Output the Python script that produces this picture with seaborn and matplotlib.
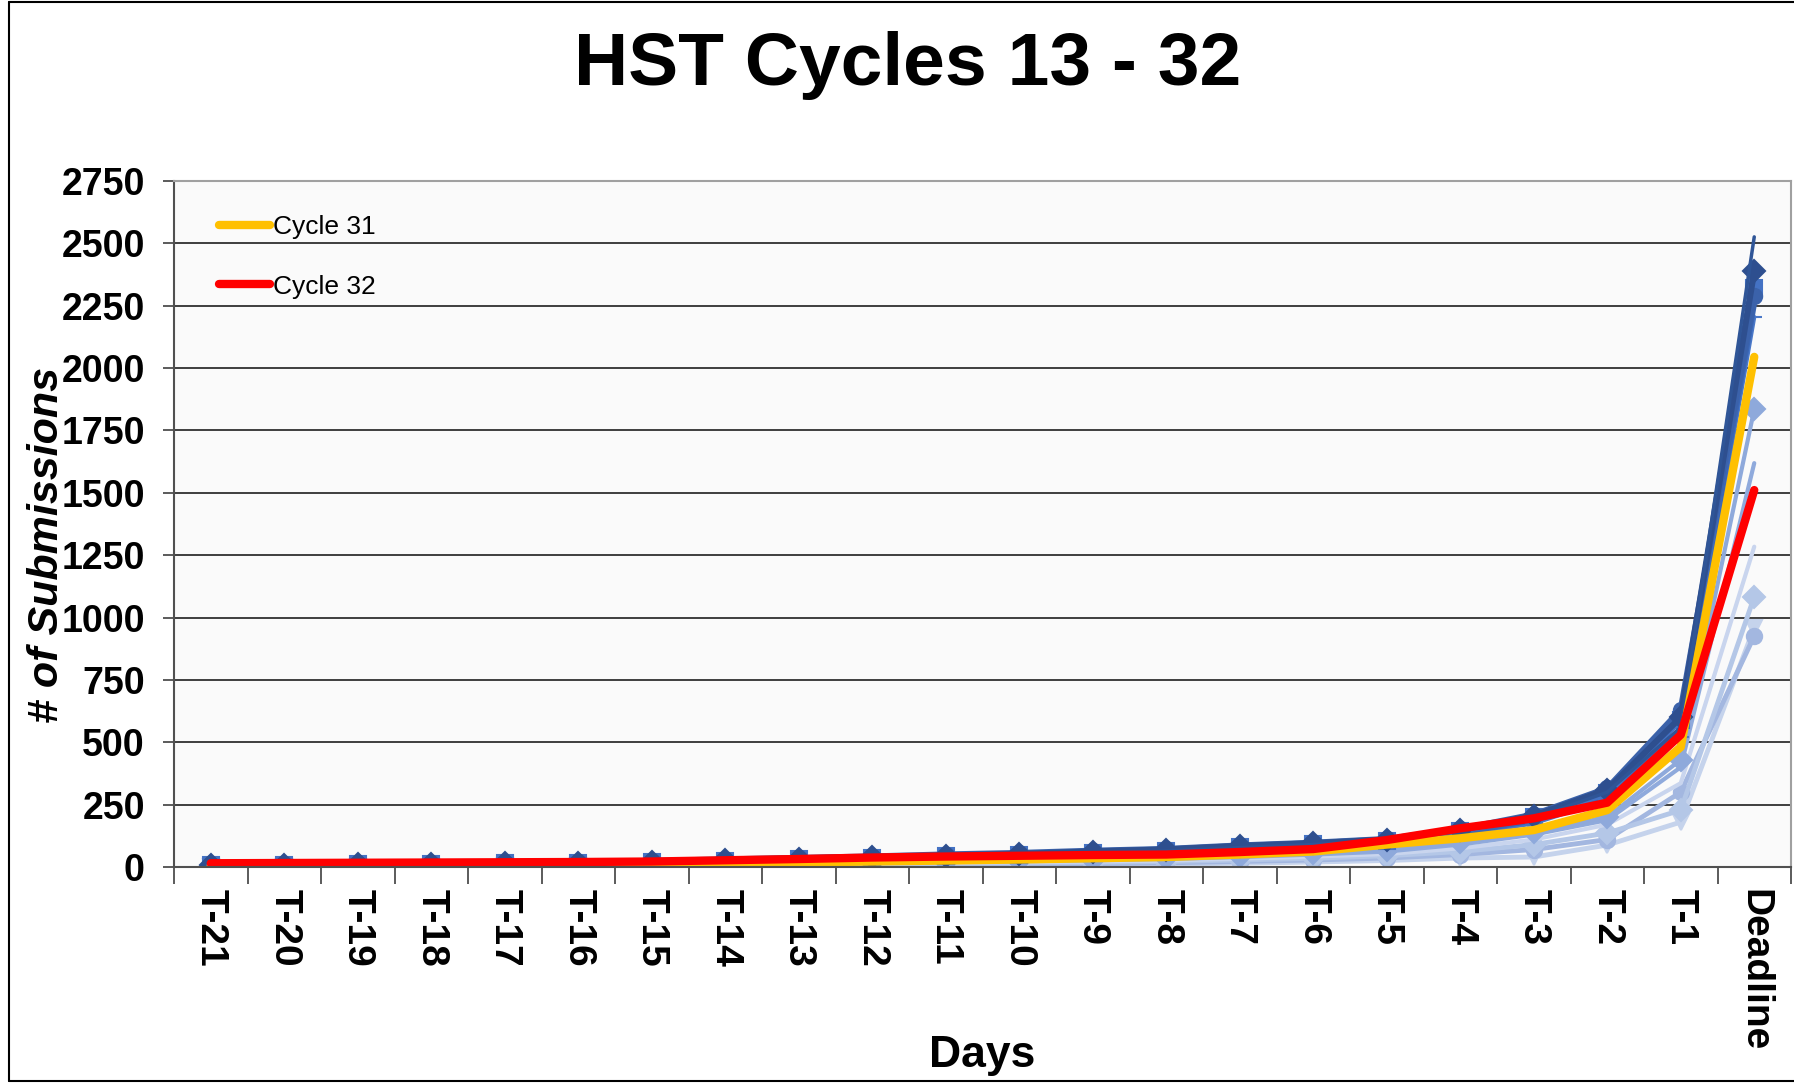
import matplotlib
matplotlib.use("Agg")
import matplotlib.pyplot as plt
import seaborn as sns
import numpy as np
import pandas as pd
from matplotlib.lines import Line2D

# ---------------- data ----------------
days = ["T-21", "T-20", "T-19", "T-18", "T-17", "T-16", "T-15", "T-14", "T-13",
        "T-12", "T-11", "T-10", "T-9", "T-8", "T-7", "T-6", "T-5", "T-4", "T-3",
        "T-2", "T-1", "Deadline"]

past_a = [6, 8, 10, 12, 14, 16, 20, 25, 30, 36, 42, 48, 56, 64, 78, 90, 105, 145, 195, 300, 560, 2526]
past_b = [8, 10, 12, 14, 16, 18, 22, 28, 34, 40, 46, 52, 62, 70, 84, 95, 110, 150, 205, 310, 600, 2390]
past_c = [7, 9, 11, 13, 15, 17, 21, 26, 32, 38, 44, 50, 58, 66, 80, 92, 106, 146, 200, 295, 590, 2320]
past_d = [10, 12, 13, 15, 17, 19, 24, 30, 36, 42, 50, 56, 65, 72, 86, 97, 112, 152, 210, 315, 630, 2290]
past_e = [5, 7, 9, 11, 13, 15, 18, 22, 27, 32, 37, 42, 50, 58, 70, 82, 98, 135, 185, 285, 550, 2250]
past_f = [4, 5, 6, 8, 10, 12, 15, 19, 24, 29, 34, 39, 46, 54, 66, 78, 92, 128, 175, 270, 520, 2205]
past_g = [3, 4, 5, 6, 7, 8, 10, 12, 15, 18, 21, 25, 30, 35, 45, 55, 70, 100, 140, 200, 430, 1835]
past_h = [3, 4, 5, 6, 7, 8, 9, 11, 14, 17, 20, 23, 27, 32, 40, 50, 62, 90, 130, 188, 400, 1619]
past_i = [2, 3, 4, 5, 6, 7, 8, 10, 12, 14, 16, 19, 22, 26, 33, 42, 52, 75, 110, 170, 336, 1284]
past_j = [1, 2, 3, 4, 5, 6, 7, 8, 10, 12, 14, 16, 18, 22, 28, 35, 45, 62, 90, 136, 228, 1083]
past_k = [1, 2, 2, 3, 4, 5, 6, 7, 8, 9, 10, 12, 14, 17, 22, 28, 36, 50, 70, 110, 300, 926]
past_l = [1, 1, 2, 2, 3, 3, 4, 5, 6, 7, 8, 9, 10, 12, 15, 20, 26, 36, 40, 88, 180, 960]

cycle31 = [5, 6, 7, 8, 9, 10, 12, 15, 18, 22, 26, 30, 35, 40, 50, 62, 90, 115, 148, 228, 481, 2045]
cycle32 = [15, 16, 17, 18, 19, 20, 22, 27, 32, 38, 42, 45, 48, 50, 60, 72, 108, 155, 195, 258, 530, 1511]

yticks = [0, 250, 500, 750, 1000, 1250, 1500, 1750, 2000, 2250, 2500, 2750]

# ---------------- style ----------------
sns.set_theme(style="white")
plt.rcParams["font.family"] = ["Liberation Sans", "DejaVu Sans"]
plt.rcParams["text.color"] = "black"
plt.rcParams["axes.labelcolor"] = "black"
plt.rcParams["xtick.color"] = "black"
plt.rcParams["ytick.color"] = "black"

fig = plt.figure(figsize=(17.94, 10.84), dpi=100)
ax = fig.add_axes([174 / 1794, 1 - 867 / 1084, (1791 - 174) / 1794, (867 - 181) / 1084])
ax.set_facecolor("#FAFAFA")

x = np.arange(len(days))

past_series = [
    (past_l, "#C5D3EC", "v", 3.5),
    (past_k, "#A3B7E0", "o", 3.5),
    (past_j, "#B4C7E7", "D", 3.5),
    (past_i, "#C9D5EE", None, 3.0),
    (past_h, "#8FAADC", None, 3.0),
    (past_g, "#8EA9DB", "D", 3.0),
    (past_f, "#4A78C8", "_", 3.0),
    (past_e, "#3A66B5", None, 3.5),
    (past_c, "#4472C4", "s", 4.5),
    (past_d, "#3B62AA", "o", 4.5),
    (past_b, "#2E4F8F", "D", 4.5),
    (past_a, "#2F5597", None, 2.5),
]

for vals, col, mk, lw in past_series:
    sns.lineplot(x=x, y=vals, ax=ax, color=col, linewidth=lw,
                 marker=mk if mk else "", markersize=11,
                 markeredgecolor=col, markeredgewidth=1.5, legend=False)

sns.lineplot(x=x, y=cycle31, ax=ax, color="#FFC000", linewidth=6,
             solid_capstyle="round", legend=False)
sns.lineplot(x=x, y=cycle32, ax=ax, color="#FF0000", linewidth=6,
             solid_capstyle="round", legend=False)

# axes
ax.set_xlim(-0.5, len(days) - 0.5)
ax.set_ylim(0, 2750)
ax.set_yticks(yticks)
ax.set_yticklabels([str(v) for v in yticks], fontsize=27, fontweight="bold")
ax.set_xticks(x)
ax.set_xticklabels(days, rotation=-90, fontsize=28, fontweight="bold")
ax.tick_params(axis="x", which="major", length=0, pad=16)
ax.set_xticks(np.arange(-0.5, len(days) + 0.5, 1), minor=True)
ax.tick_params(axis="x", which="minor", length=12, width=1.2, color="#404040", direction="out", bottom=True)
ax.tick_params(axis="y", length=8, width=1.2, color="#404040", direction="out", left=True, pad=13)

ax.yaxis.grid(True, color="#303030", linewidth=1.3)
ax.xaxis.grid(False)
ax.set_axisbelow(True)

for side in ["left", "bottom"]:
    ax.spines[side].set_color("#505050")
    ax.spines[side].set_linewidth(1.5)
for side in ["top", "right"]:
    ax.spines[side].set_color("#A0A0A0")
    ax.spines[side].set_linewidth(1.5)

ax.set_ylabel("# of Submissions", fontsize=31, fontweight="bold", fontstyle="italic", labelpad=0)
ax.yaxis.set_label_coords(-0.066, 0.47)
ax.set_xlabel("Days", fontsize=32, fontweight="bold")
ax.xaxis.set_label_coords(0.5, -0.245)

fig.text(908 / 1794, 1 - 66 / 1084, "HST Cycles 13 - 32", fontsize=54, fontweight="bold",
         ha="center", va="center")

handles = [Line2D([0], [0], color="#FFC000", linewidth=6, solid_capstyle="round"),
           Line2D([0], [0], color="#FF0000", linewidth=6, solid_capstyle="round")]
leg = ax.legend(handles, ["Cycle 31", "Cycle 32"], loc="upper left",
                bbox_to_anchor=(0.013, 0.985), frameon=False, fontsize=19,
                handlelength=1.95, handletextpad=0.1, labelspacing=1.35)

# figure frame
fig.add_artist(Line2D([9 / 1794, 9 / 1794], [1 - 1081 / 1084, 1 - 2 / 1084],
                      transform=fig.transFigure, color="black", linewidth=1.5))
fig.add_artist(Line2D([9 / 1794, 1], [1 - 2 / 1084, 1 - 2 / 1084],
                      transform=fig.transFigure, color="black", linewidth=1.5))
fig.add_artist(Line2D([9 / 1794, 1], [1 - 1081 / 1084, 1 - 1081 / 1084],
                      transform=fig.transFigure, color="black", linewidth=1.5))

fig.savefig("out.png", dpi=100, facecolor="white")
